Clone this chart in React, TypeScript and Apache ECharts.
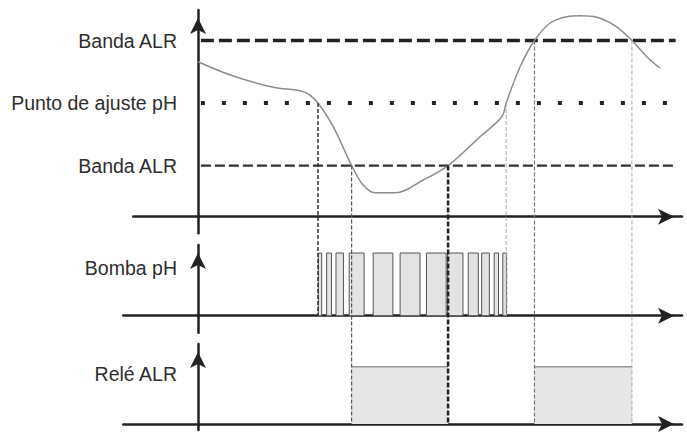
import React, { useEffect, useRef } from 'react';
import * as echarts from 'echarts';

// time axis is in arbitrary units (0 at the vertical axes)
const phTime = [0, 7.35, 15.7, 21.25, 23.3, 25, 28.2, 32.0, 34.4, 36.9, 41.0, 46.9, 52.1, 58.75, 63.3, 64.2, 67.1, 70.1, 73.3, 76.8, 79.6, 83.1, 87.2, 90.4, 93.5, 96.25];
const phValue = [7.53, 7.416, 7.326, 7.298, 7.264, 7.2, 7.01, 6.7, 6.544, 6.482, 6.482, 6.584, 6.7, 6.93, 7.09, 7.2, 7.49, 7.7, 7.838, 7.89, 7.898, 7.886, 7.81, 7.7, 7.57, 7.478];

// reference levels: upper band, set point, lower band
const levels = [7.7, 7.2, 6.7];
const levelNames = ['Banda ALR', 'Punto de ajuste pH', 'Banda ALR'];
const levelSpan = [0.6, 99.5];

// pump pulses and relay on-periods [start, end]
const pumpOn = [[25.06, 25.77], [26.8, 27.8], [28.75, 30.3], [31.5, 34.6], [36.5, 40.6], [42.1, 46.25], [47.6, 51.7], [52.0, 55.2], [56.3, 58.4], [59.1, 60.7], [61.7, 62.6], [63.5, 64.3]];
const relayOn = [[32.0, 52.1], [70.1, 90.4]];

const panelLabels = ['Bomba pH', 'Relé ALR'];
const panelLabelAt = [0.76, 0.87];

// vertical guides: time, pH level where they start, panel where they end
const guideTime = [25, 32.0, 52.1, 64.2, 70.1, 90.4];
const guideLevel = [7.2, 6.7, 6.7, 7.2, 7.7, 7.7];
const guideEndPanel = [1, 2, 2, 1, 2, 2];

const FONT = 'Liberation Sans';
const AXIS_X = 198;
const guideStyles = [
  { stroke: '#333', lineWidth: 1.5, lineDash: [4, 2] },
  { stroke: '#555', lineWidth: 1.2, lineDash: [4, 2] },
  { stroke: '#222', lineWidth: 2.5, lineDash: [5, 2] },
  { stroke: '#aaa', lineWidth: 1, lineDash: [4, 2] },
  { stroke: '#777', lineWidth: 1.2, lineDash: [4, 2] },
  { stroke: '#aaa', lineWidth: 1, lineDash: [4, 2] },
];
const levelStyles = [
  { color: '#222', width: 3.5, type: [13, 5] },
  { color: '#222', width: 4, type: [4, 17] },
  { color: '#333', width: 2.2, type: [10, 4] },
];

const axisLine = (onZero: boolean) => ({
  show: true,
  onZero,
  symbol: ['none', 'arrow'],
  symbolSize: [12, 16],
  symbolOffset: [0, -8],
  lineStyle: { color: '#222', width: 2.5 },
});

const labelStyle = {
  fontFamily: FONT,
  fontSize: 19.5,
  color: '#2e2e2e',
  margin: 21,
};

const Chart = () => {
  const chartRef = useRef<HTMLDivElement>(null);

  useEffect(() => {
    if (!chartRef.current) return;
    const chart = echarts.init(chartRef.current, null, { renderer: 'svg' });

    const grids = [
      { left: 133.3, right: 5, top: 10, bottom: 200.7 },
      { left: 123.3, right: 5, top: 245, bottom: 101.3 },
      { left: 123.3, right: 5, top: 344, bottom: 4 },
    ];

    const xBase = { type: 'value', max: 100.83, axisTick: { show: false }, axisLabel: { show: false }, splitLine: { show: false } };
    const yBase = (i: number) => ({
      type: 'value',
      gridIndex: i,
      position: 'left',
      offset: grids[i].left - AXIS_X,
      axisTick: { show: false },
      splitLine: { show: false },
      axisLine: axisLine(false),
    });

    const option = {
      animation: false,
      grid: grids.map((g) => ({ ...g, outerBoundsMode: 'none', containLabel: false })),
      xAxis: [
        { ...xBase, gridIndex: 0, min: -13.48, position: 'bottom', offset: -16.6, axisLine: axisLine(false) },
        { ...xBase, gridIndex: 1, min: -15.56, axisLine: axisLine(true) },
        { ...xBase, gridIndex: 2, min: -15.56, axisLine: axisLine(true) },
      ],
      yAxis: [
        {
          ...yBase(0), min: 6.158, max: 7.944,
          axisLabel: {
            ...labelStyle,
            customValues: levels,
            padding: [0, 0, 7, 0],
            formatter: (v: number) => levelNames[levels.indexOf(v)] ?? '',
          },
        },
        {
          ...yBase(1), min: -0.271, max: 1.128,
          axisLabel: { ...labelStyle, customValues: [panelLabelAt[0]], formatter: () => panelLabels[0] },
        },
        {
          ...yBase(2), min: -0.105, max: 1.396,
          axisLabel: { ...labelStyle, customValues: [panelLabelAt[1]], formatter: () => panelLabels[1] },
        },
      ],
      series: [
        ...levels.map((lv, i) => ({
          type: 'line',
          xAxisIndex: 0,
          yAxisIndex: 0,
          symbol: 'none',
          silent: true,
          lineStyle: { ...levelStyles[i], cap: 'butt' },
          data: levelSpan.map((t) => [t, lv]),
        })),
        {
          type: 'line',
          xAxisIndex: 0,
          yAxisIndex: 0,
          symbol: 'none',
          smooth: 0.35,
          clip: false,
          lineStyle: { color: '#8c8c8c', width: 1.5 },
          data: phTime.map((t, i) => [t, phValue[i]]),
        },
        {
          type: 'custom',
          xAxisIndex: 1,
          yAxisIndex: 1,
          encode: { x: [0, 1], y: 2 },
          data: pumpOn.map(([s, e]) => [s, e, 1]),
          renderItem: (_p: any, api: any) => {
            const a = api.coord([api.value(0), api.value(2)]);
            const b = api.coord([api.value(1), 0]);
            return {
              type: 'rect',
              shape: { x: a[0], y: a[1], width: b[0] - a[0], height: b[1] - a[1] },
              style: { fill: '#e3e3e3', stroke: '#555', lineWidth: 1 },
            };
          },
        },
        {
          type: 'custom',
          xAxisIndex: 2,
          yAxisIndex: 2,
          encode: { x: [0, 1], y: 2 },
          data: relayOn.map(([s, e]) => [s, e, 1]),
          renderItem: (_p: any, api: any) => {
            const a = api.coord([api.value(0), api.value(2)]);
            const b = api.coord([api.value(1), 0]);
            return {
              type: 'group',
              children: [
                { type: 'rect', shape: { x: a[0], y: a[1], width: b[0] - a[0], height: b[1] - a[1] }, style: { fill: '#e6e6e6' } },
                { type: 'line', shape: { x1: a[0], y1: a[1], x2: b[0], y2: a[1] }, style: { stroke: '#999', lineWidth: 1.5 } },
              ],
            };
          },
        },
      ],
    };

    chart.setOption(option as any);

    const graphic = guideTime.map((t, i) => {
      const a = chart.convertToPixel({ gridIndex: 0 }, [t, guideLevel[i]]) as number[];
      const b = chart.convertToPixel({ gridIndex: guideEndPanel[i] }, [t, 0]) as number[];
      return {
        type: 'line',
        z: 10,
        silent: true,
        shape: { x1: a[0], y1: a[1], x2: b[0], y2: b[1] },
        style: { ...guideStyles[i] },
      };
    });
    chart.setOption({ graphic });

    return () => {
      chart.dispose();
    };
  }, []);

  return (
    <div
      ref={chartRef}
      style={{ position: 'fixed', left: 0, top: 0, width: '687px', height: '434px', background: '#fff' }}
    />
  );
};

export default function App() {
  return <Chart />;
}
